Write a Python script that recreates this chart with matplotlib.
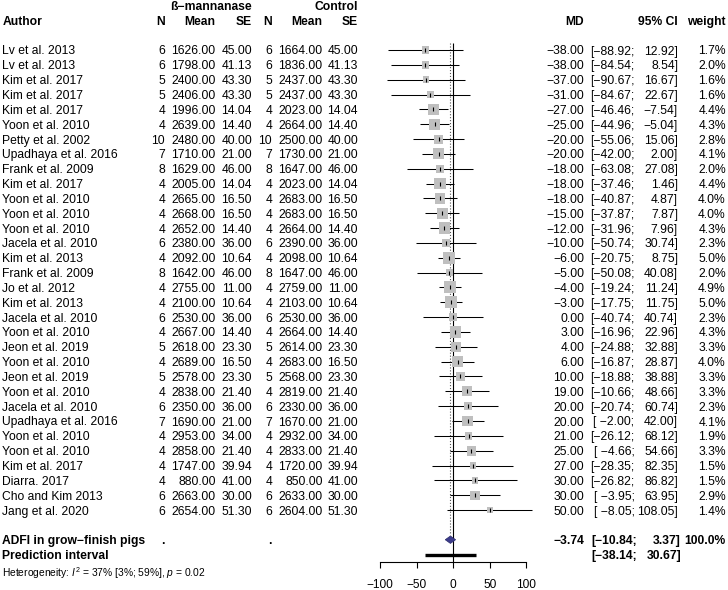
import numpy as np
import matplotlib
matplotlib.use("Agg")
import matplotlib.pyplot as plt
from matplotlib.transforms import blended_transform_factory

plt.rcParams['font.family'] = ['Liberation Sans', 'DejaVu Sans']
plt.rcParams['mathtext.fontset'] = 'custom'
plt.rcParams['mathtext.rm'] = 'Liberation Sans'
plt.rcParams['mathtext.it'] = 'Liberation Sans:italic'

# study data
authors = ["Lv et al. 2013", "Lv et al. 2013", "Kim et al. 2017", "Kim et al. 2017",
           "Kim et al. 2017", "Yoon et al. 2010", "Petty et al. 2002", "Upadhaya et al. 2016",
           "Frank et al. 2009", "Kim et al. 2017", "Yoon et al. 2010", "Yoon et al. 2010",
           "Yoon et al. 2010", "Jacela et al. 2010", "Kim et al. 2013", "Frank et al. 2009",
           "Jo et al. 2012", "Kim et al. 2013", "Jacela et al. 2010", "Yoon et al. 2010",
           "Jeon et al. 2019", "Yoon et al. 2010", "Jeon et al. 2019", "Yoon et al. 2010",
           "Jacela et al. 2010", "Upadhaya et al. 2016", "Yoon et al. 2010", "Yoon et al. 2010",
           "Kim et al. 2017", "Diarra. 2017", "Cho and Kim 2013", "Jang et al. 2020"]
n_trt = [6, 6, 5, 5, 4, 4, 10, 7, 8, 4, 4, 4, 4, 6, 4, 8, 4, 4, 6, 4, 5, 4, 5, 4, 6, 7, 4, 4, 4, 4, 6, 6]
mean_trt = [1626, 1798, 2400, 2406, 1996, 2639, 2480, 1710, 1629, 2005, 2665, 2668, 2652, 2380, 2092, 1642,
            2755, 2100, 2530, 2667, 2618, 2689, 2578, 2838, 2350, 1690, 2953, 2858, 1747, 880, 2663, 2654]
se_trt = [45.00, 41.13, 43.30, 43.30, 14.04, 14.40, 40.00, 21.00, 46.00, 14.04, 16.50, 16.50, 14.40, 36.00,
          10.64, 46.00, 11.00, 10.64, 36.00, 14.40, 23.30, 16.50, 23.30, 21.40, 36.00, 21.00, 34.00, 21.40,
          39.94, 41.00, 30.00, 51.30]
n_ctl = n_trt
mean_ctl = [1664, 1836, 2437, 2437, 2023, 2664, 2500, 1730, 1647, 2023, 2683, 2683, 2664, 2390, 2098, 1647,
            2759, 2103, 2530, 2664, 2614, 2683, 2568, 2819, 2330, 1670, 2932, 2833, 1720, 850, 2633, 2604]
se_ctl = se_trt
md = [-38, -38, -37, -31, -27, -25, -20, -20, -18, -18, -18, -15, -12, -10, -6, -5,
      -4, -3, 0, 3, 4, 6, 10, 19, 20, 20, 21, 25, 27, 30, 30, 50]
ci_lo = [-88.92, -84.54, -90.67, -84.67, -46.46, -44.96, -55.06, -42.00, -63.08, -37.46, -40.87, -37.87,
         -31.96, -50.74, -20.75, -50.08, -19.24, -17.75, -40.74, -16.96, -24.88, -16.87, -18.88, -10.66,
         -20.74, -2.00, -26.12, -4.66, -28.35, -26.82, -3.95, -8.05]
ci_hi = [12.92, 8.54, 16.67, 22.67, -7.54, -5.04, 15.06, 2.00, 27.08, 1.46, 4.87, 7.87, 7.96, 30.74, 8.75,
         40.08, 11.24, 11.75, 40.74, 22.96, 32.88, 28.87, 38.88, 48.66, 60.74, 42.00, 68.12, 54.66, 82.35,
         86.82, 63.95, 108.05]
weight = [1.7, 2.0, 1.6, 1.6, 4.4, 4.3, 2.8, 4.1, 2.0, 4.4, 4.0, 4.0, 4.3, 2.3, 5.0, 2.0,
          4.9, 5.0, 2.3, 4.3, 3.3, 4.0, 3.3, 3.3, 2.3, 4.1, 1.9, 3.3, 1.5, 1.5, 2.9, 1.4]

pooled_md, pooled_lo, pooled_hi = -3.74, -10.84, 3.37
pred_lo, pred_hi = -38.14, 30.67
xticks = [-100, -50, 0, 50, 100]

W, H = 728, 590
ROW0, STEP = 50.0, 14.84
FS = 8.7


def m(s):
    return s.replace('-', '\u2212')


fig = plt.figure(figsize=(W / 100, H / 100), dpi=100)
ax = fig.add_axes([380 / W, 0, (526.3 - 380) / W, 1])
ax.set_facecolor('none')
ax.set_xlim(-100, 100)
ax.set_ylim((H - ROW0) / STEP, -ROW0 / STEP)

rows = np.arange(len(authors))
k = len(authors)
sum_row = k + 1
pred_row = k + 2
axis_row = (562.3 - ROW0) / STEP

# forest marks
ax.vlines(0, -0.47, axis_row, color='black', lw=0.8, clip_on=False)
ax.vlines(pooled_md, -0.47, sum_row - 0.35, color='#555555', lw=0.8, linestyles=':', clip_on=False)
ax.hlines(rows, ci_lo, ci_hi, color='black', lw=0.75, clip_on=False, zorder=2)
side = 5.4 * np.sqrt(np.array(weight)) / 1.389
ax.scatter(md, rows, marker='s', s=side ** 2, c='#bfbfbf', linewidths=0, zorder=3, clip_on=False)
ax.scatter(md, rows, marker='|', s=3.0 ** 2, c='black', linewidths=0.8, zorder=4, clip_on=False)
ax.fill([pooled_lo, pooled_md, pooled_hi, pooled_md],
        [sum_row, sum_row - 0.25, sum_row, sum_row + 0.25],
        facecolor='#3c3c8c', edgecolor='#2a2a6a', lw=0.5, zorder=4, clip_on=False)
ax.hlines(pred_row, pred_lo, pred_hi, color='black', lw=2.4, clip_on=False)

# x axis
for s in ['left', 'right', 'top']:
    ax.spines[s].set_visible(False)
ax.spines['bottom'].set_position(('data', axis_row))
ax.spines['bottom'].set_bounds(-100, 100)
ax.spines['bottom'].set_linewidth(0.8)
ax.set_xticks(xticks)
ax.set_xticklabels([m(str(t)) for t in xticks])
ax.tick_params(axis='x', direction='out', length=4, width=0.8, labelsize=8.6, pad=8)
ax.set_yticks([])

tr = blended_transform_factory(fig.transFigure, ax.transData)


def put(xpx, row, s, ha='right', **kw):
    kw.setdefault('fontsize', FS)
    ax.text(xpx / W, row, s, transform=tr, ha=ha, va='center_baseline', **kw)


# headers
put(252, -3, m('ß-mannanase'), weight='bold')
put(358, -3, 'Control', weight='bold')
put(2.3, -2, 'Author', ha='left', weight='bold')
for x, s in [(165, 'N'), (215.7, 'Mean'), (252, 'SE'), (272, 'N'), (322.7, 'Mean'), (358, 'SE'),
             (584.3, 'MD'), (678, '95% CI'), (725.7, 'weight')]:
    put(x, -2, s, weight='bold')

# study rows
for i in range(k):
    put(2.3, i, authors[i], ha='left')
    put(165, i, str(n_trt[i]))
    put(215.7, i, f'{mean_trt[i]:.2f}')
    put(252, i, f'{se_trt[i]:.2f}')
    put(272, i, str(n_ctl[i]))
    put(322.7, i, f'{mean_ctl[i]:.2f}')
    put(358, i, f'{se_ctl[i]:.2f}')
    put(584.3, i, m(f'{md[i]:.2f}'))
    put(634.5, i, m('[' + f'{ci_lo[i]:.2f}'.rjust(6) + ';'))
    put(678, i, m(f'{ci_hi[i]:.2f}]'))
    put(725.7, i, f'{weight[i]:.1f}%')

# summary rows
put(2.3, sum_row, m('ADFI in grow-finish pigs'), ha='left', weight='bold')
put(165, sum_row, '.', weight='bold')
put(272, sum_row, '.', weight='bold')
put(584.3, sum_row, m(f'{pooled_md:.2f}'), weight='bold')
put(637, sum_row, m(f'[{pooled_lo:.2f};'), weight='bold')
put(681, sum_row, m(f'{pooled_hi:.2f}]'), weight='bold')
put(725.7, sum_row, '100.0%', weight='bold')
put(2.3, pred_row, 'Prediction interval', ha='left', weight='bold')
put(637, pred_row, m(f'[{pred_lo:.2f};'), weight='bold')
put(681, pred_row, m(f'{pred_hi:.2f}]'), weight='bold')
put(2.3, (570.7 - ROW0) / STEP, m('Heterogeneity: $I^2$ = 37% [3%; 59%], $p$ = 0.02'), ha='left', fontsize=7.4)

fig.savefig('out.png', dpi=100)
